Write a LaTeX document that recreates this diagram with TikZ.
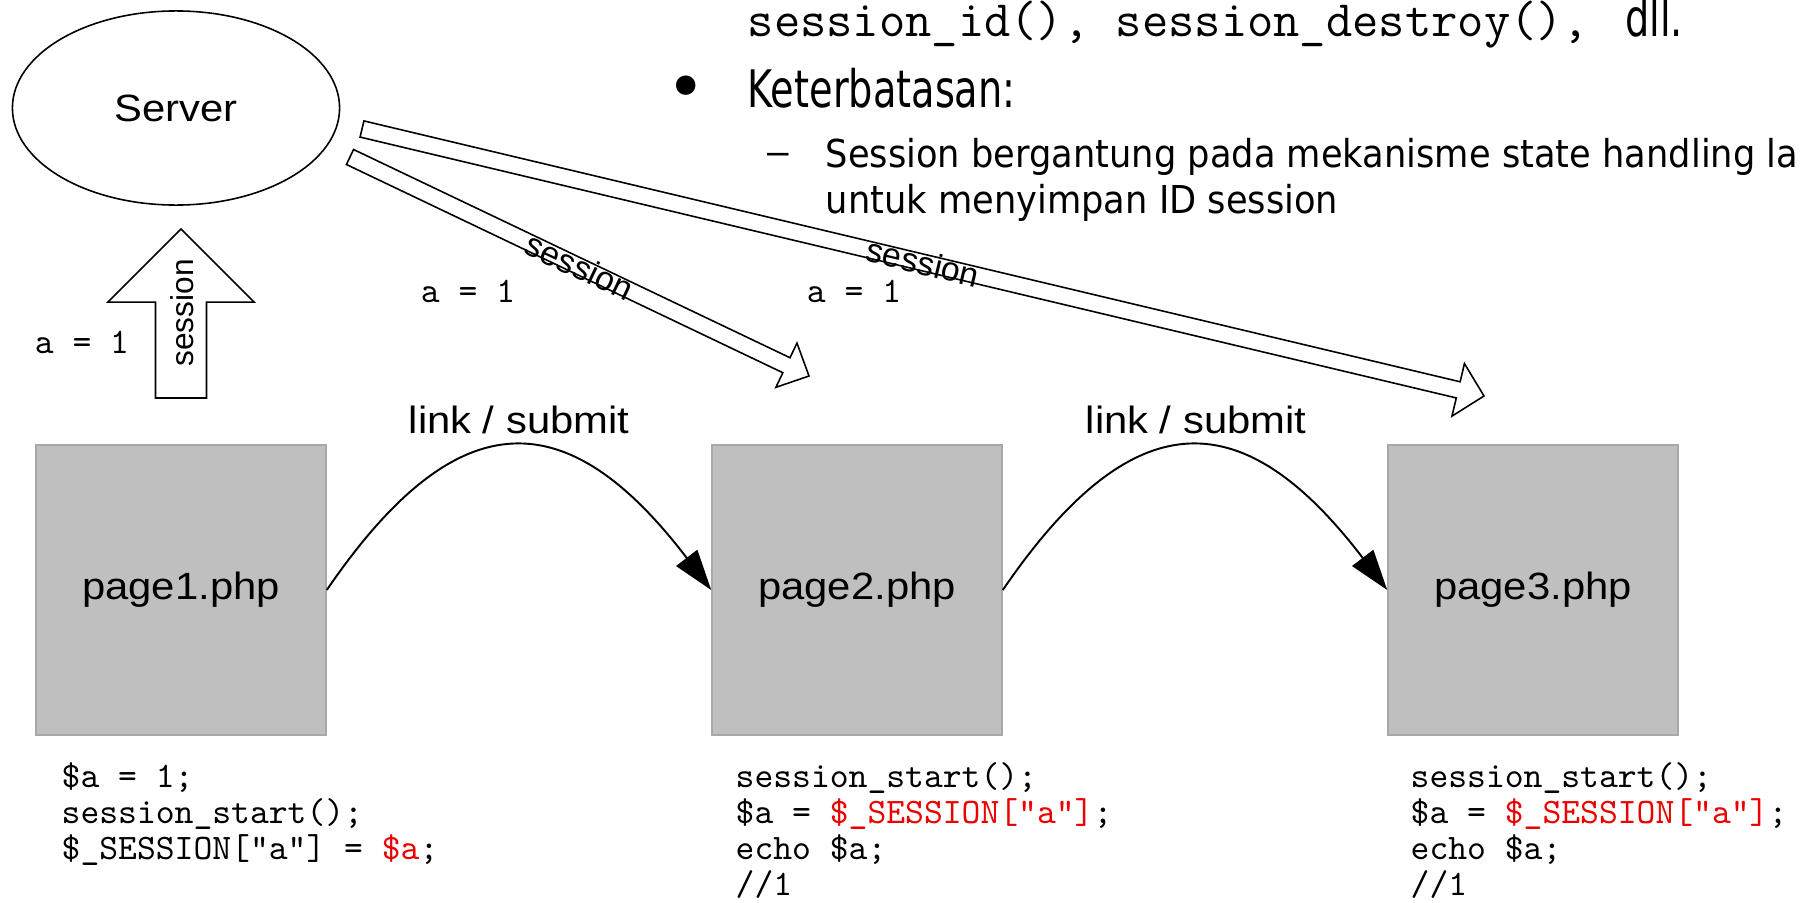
\documentclass[tikz,border=0pt]{standalone}
\usepackage{fontspec}
\usetikzlibrary{shapes.geometric,arrows.meta,calc}
\newfontfamily\arialS{Liberation Sans}[FakeStretch=1.1]
\newfontfamily\arialN{Liberation Sans}
\newfontfamily\tahA{DejaVu Sans}[FakeStretch=0.74]
\newfontfamily\tahB{DejaVu Sans}[FakeStretch=0.917]
\newfontfamily\dvsans{DejaVu Sans}
\definecolor{boxgray}{RGB}{191,191,191}
\definecolor{boxedge}{RGB}{168,168,168}
\definecolor{codered}{RGB}{235,0,0}
\newcommand\blkarrow[5]{%
  \coordinate (#1#2h) at ($(#2)!#5!(#1)$);
  \draw[blockarrow] ($(#1)!#3!90:(#2)$) -- ($(#1#2h)!#3!90:(#2)$) -- ($(#1#2h)!#4!90:(#2)$) -- (#2) -- ($(#1#2h)!#4!-90:(#2)$) -- ($(#1#2h)!#3!-90:(#2)$) -- ($(#1)!#3!-90:(#2)$) -- cycle;}
\begin{document}
\begin{tikzpicture}[x=0.01cm,y=-0.01cm,
  pagebox/.style={draw=boxedge, fill=boxgray, line width=0.4pt, minimum width=2.9cm, minimum height=2.9cm, inner sep=0pt, font=\arialS\fontsize{10.8}{13}\selectfont},
  blockarrow/.style={draw=black, line width=0.45pt, fill=white, line join=miter},
  arcarrow/.style={draw=black, line width=0.55pt, -{Triangle[length=11.5pt,width=7.5pt]}},
  lbl/.style={inner sep=0pt, font=\arialN\fontsize{9.6}{11}\selectfont},
  linklbl/.style={anchor=base, inner sep=0pt, font=\arialS\fontsize{10.8}{13}\selectfont},
  code/.style={anchor=base west, inner sep=0pt, font=\ttfamily\fontsize{10.2}{12}\selectfont},
  aval/.style={anchor=base, inner sep=0pt, font=\ttfamily\fontsize{10.2}{12}\selectfont},
  subtxt/.style={anchor=base west, inner sep=0pt, font=\tahB\fontsize{10.93}{13}\selectfont}]
\useasboundingbox (0,0) rectangle (1802,903);

% top text
\node[anchor=base west, inner sep=0pt] (l1) at (747,37)
  {\ttfamily\fontsize{14.52}{17}\selectfont session\_id(), session\_destroy(),\ \hspace{2.8pt}{\tahA\fontsize{14.71}{17}\selectfont dll.}};
\node[inner sep=0pt, font=\dvsans\fontsize{19}{20}\selectfont] (bul) at (686,93) {•};
\node[anchor=base west, inner sep=0pt, font=\tahA\fontsize{14.71}{17}\selectfont] (l2) at (747,107) {Keterbatasan:};
\node[inner sep=0pt, font=\arialN\fontsize{11}{13}\selectfont] (dash) at (778,159) {–};
\node[subtxt] (l3) at (825,167) {Session bergantung pada mekanisme state handling la};
\node[subtxt] (l4) at (825,213) {untuk menyimpan ID session};

% server
\node[ellipse, draw, line width=0.45pt, minimum width=3.27cm, minimum height=1.94cm, inner sep=0pt, font=\arialS\fontsize{10.8}{13}\selectfont] (server) at (176,108) {Server};

% pages
\node[pagebox] (p1) at (181,590) {page1.php};
\node[pagebox] (p2) at (857,590) {page2.php};
\node[pagebox] (p3) at (1533,590) {page3.php};

% up block arrow
\coordinate (ua) at (181,398);
\coordinate (ub) at (181,229);
\blkarrow{ua}{ub}{0.255cm}{0.73cm}{0.73cm}
\node[lbl, rotate=90, font=\arialN\fontsize{9}{10}\selectfont] (ul) at (182,313) {session};

% diagonal block arrows
\coordinate (sa) at (350,157);
\coordinate (sb) at (809,376);
\blkarrow{sa}{sb}{0.083cm}{0.245cm}{0.25cm}
\path (sa) -- (sb) node[midway, sloped, lbl] (sl1) {session};
\coordinate (ta) at (362,129);
\coordinate (tb) at (1484,396);
\blkarrow{ta}{tb}{0.083cm}{0.27cm}{0.265cm}
\path (ta) -- (tb) node[midway, sloped, lbl] (sl2) {session};

% a = 1 labels
\node[aval] (a1) at (82,353) {a = 1};
\node[aval] (a2) at (468,302) {a = 1};
\node[aval] (a3) at (854,302) {a = 1};

% link / submit arcs
\draw[arcarrow] (p1.east) .. controls (460,395) and (570,405) .. (p2.west);
\draw[arcarrow] (p2.east) .. controls (1136,395) and (1246,405) .. (p3.west);
\node[linklbl] (k1) at (519,433) {link / submit};
\node[linklbl] (k2) at (1196,433) {link / submit};

% code
\node[code] (c1a) at (61,787) {\$a = 1;};
\node[code] (c1b) at (61,823) {session\_start();};
\node[code] (c1c) at (61,859) {\$\_SESSION["a"] = \textcolor{codered}{\$a};};

\node[code] (c2a) at (735,787) {session\_start();};
\node[code] (c2b) at (735,823) {\$a = \textcolor{codered}{\$\_SESSION["a"]};};
\node[code] (c2c) at (735,859) {echo \$a;};
\node[code] (c2d) at (735,895) {//1};

\node[code] (c3a) at (1410,787) {session\_start();};
\node[code] (c3b) at (1410,823) {\$a = \textcolor{codered}{\$\_SESSION["a"]};};
\node[code] (c3c) at (1410,859) {echo \$a;};
\node[code] (c3d) at (1410,895) {//1};
\end{tikzpicture}
\end{document}
